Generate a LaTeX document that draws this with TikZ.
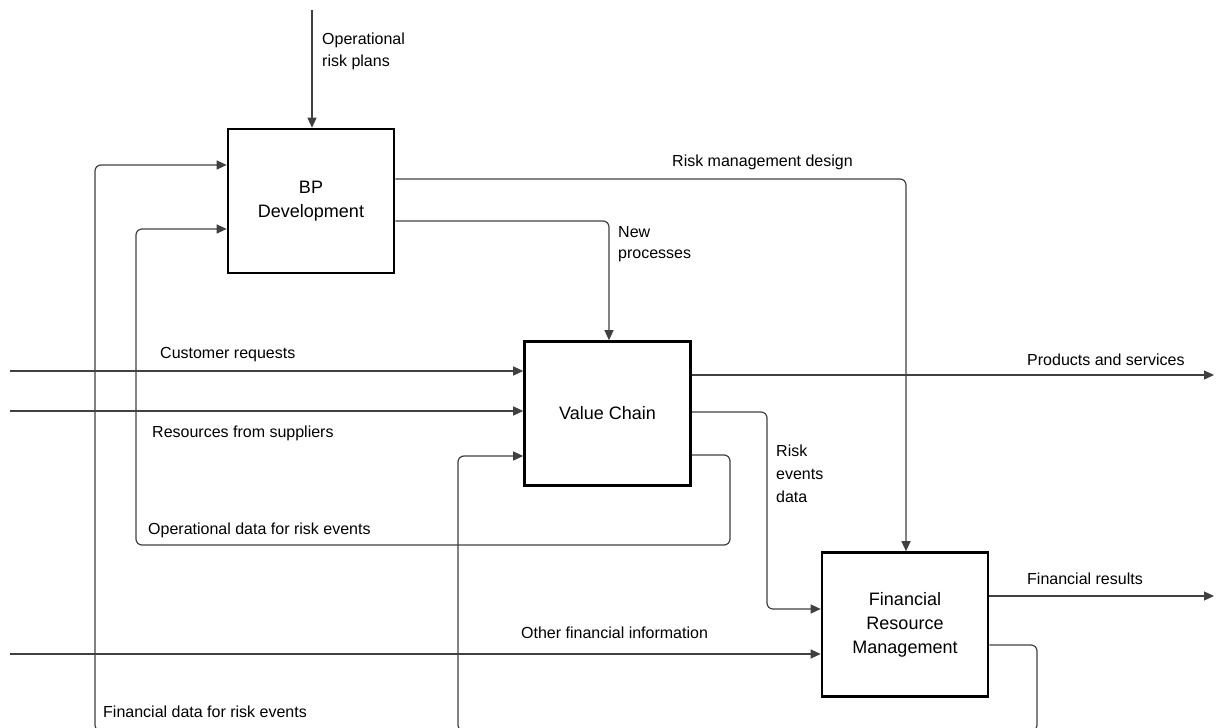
\documentclass[tikz,border=0pt]{standalone}
\usepackage{fontspec}
\setmainfont{Liberation Sans}
\usetikzlibrary{arrows.meta}
\begin{document}
\begin{tikzpicture}[x=1pt,y=-1pt,
  proc/.style={draw=black, line width=2.6pt, minimum width=166pt, minimum height=144pt,
    inner sep=0pt, align=center, font=\fontsize{18}{24}\selectfont},
  flow/.style={draw=black!75, line width=1.2pt, rounded corners=6pt,
    -{Triangle[length=10pt,width=9pt]}},
  lbl/.style={inner sep=0pt, font=\fontsize{16}{21}\selectfont, text=black, align=left}]
\useasboundingbox (0,0) rectangle (1219,728);
\clip (0,0) rectangle (1219,728);

% activity boxes
\node[proc] (BP)  at (311,201)     {BP\\Development};
\node[proc] (VC)  at (607.5,413.5) {Value Chain};
\node[proc] (FRM) at (905,624.5)   {Financial\\Resource\\Management};

% waypoints
\coordinate (orp)   at (312,10);
\coordinate (fdOut) at (0,645);
\coordinate (fdA)   at (1037,731);
\coordinate (fdB)   at (95,165);
\coordinate (fdJ)   at (530,731);
\coordinate (fdC)   at (458,456);
\coordinate (odOut) at (0,455);
\coordinate (odA)   at (730,545);
\coordinate (odB)   at (136,229);
\coordinate (rmd)   at (906,179);
\coordinate (np)    at (609,221);
\coordinate (cr)    at (10,371);
\coordinate (rs)    at (10,411);
\coordinate (ps)    at (1214,375);
\coordinate (reA)   at (767,412);
\coordinate (reB)   at (767,609);
\coordinate (fr)    at (1214,596);
\coordinate (of)    at (10,654);

% connectors
\draw[flow] (orp) -- (orp |- BP.north);
\draw[flow] (FRM.east |- fdOut) -| (fdA) -| (fdB) -- (BP.west |- fdB);
\draw[flow] (fdJ) -| (fdC) -- (VC.west |- fdC);
\draw[flow] (VC.east |- odOut) -| (odA) -| (odB) -- (BP.west |- odB);
\draw[flow] (BP.east |- rmd) -- (rmd) -- (rmd |- FRM.north);
\draw[flow] (BP.east |- np) -- (np) -- (np |- VC.north);
\draw[flow] (cr) -- (cr -| VC.west);
\draw[flow] (rs) -- (rs -| VC.west);
\draw[flow] (VC.east |- ps) -- (ps);
\draw[flow] (VC.east |- reA) -- (reA) -- (reB) -- (reB -| FRM.west);
\draw[flow] (FRM.east |- fr) -- (fr);
\draw[flow] (of) -- (of -| FRM.west);

% connector labels
\node[lbl, anchor=north west] (lORP) at (322,32.5) {Operational\\[1pt]risk plans};
\node[lbl, anchor=base west]  (lRMD) at (672,166) {Risk management design};
\node[lbl, anchor=north west] (lNP)  at (618,226) {New\\processes};
\node[lbl, anchor=base west]  (lCR)  at (160,358) {Customer requests};
\node[lbl, anchor=base west]  (lRS)  at (152,437) {Resources from suppliers};
\node[lbl, anchor=base west]  (lOD)  at (148,534) {Operational data for risk events};
\node[lbl, anchor=north west] (lRE)  at (776,445) {Risk\\[2pt]events\\[2pt]data};
\node[lbl, anchor=base west]  (lPS)  at (1027,365) {Products and services};
\node[lbl, anchor=base west]  (lFR)  at (1027,584) {Financial results};
\node[lbl, anchor=base west]  (lOF)  at (521,638) {Other financial information};
\node[lbl, anchor=base west]  (lFD)  at (103,717) {Financial data for risk events};
\end{tikzpicture}
\end{document}
